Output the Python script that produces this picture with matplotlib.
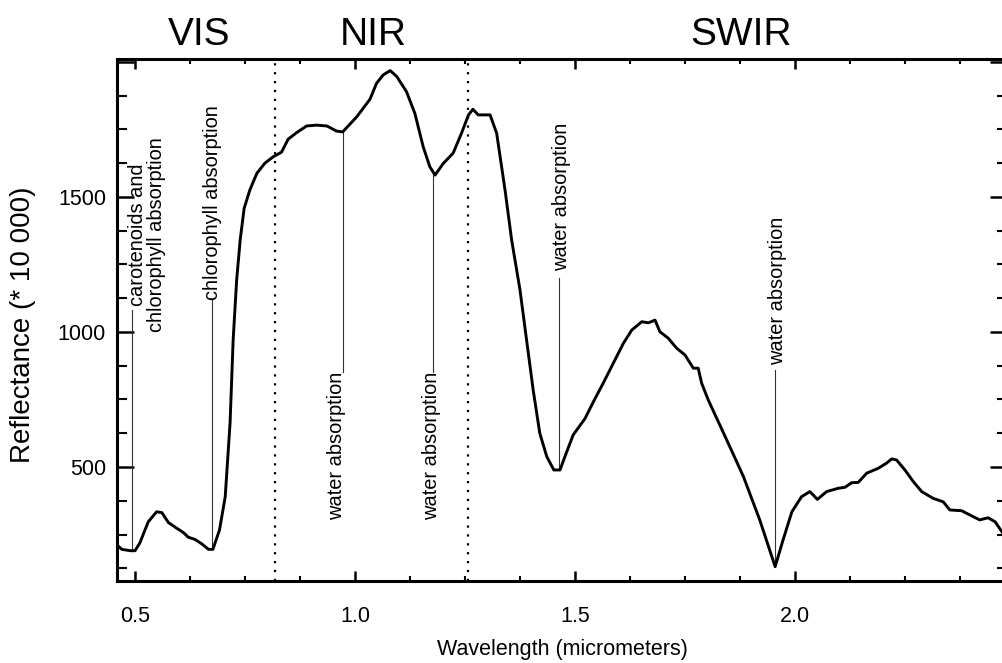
import numpy as np
import matplotlib
matplotlib.use("Agg")
import matplotlib.pyplot as plt
from matplotlib.ticker import MultipleLocator
from matplotlib.transforms import blended_transform_factory

plt.rcParams['font.family'] = ['Liberation Sans', 'DejaVu Sans']

# spectrum
wavelength = [0.459, 0.470, 0.489, 0.500, 0.511, 0.530, 0.549, 0.561, 0.576, 0.595,
              0.610, 0.621, 0.636, 0.652, 0.667, 0.677, 0.692, 0.705, 0.716, 0.723,
              0.731, 0.739, 0.748, 0.761, 0.777, 0.795, 0.814, 0.833, 0.848, 0.867,
              0.890, 0.913, 0.936, 0.958, 0.972, 1.004, 1.034, 1.049, 1.064, 1.080,
              1.095, 1.117, 1.136, 1.155, 1.170, 1.182, 1.201, 1.223, 1.242, 1.258,
              1.268, 1.280, 1.307, 1.322, 1.341, 1.356, 1.375, 1.390, 1.405, 1.420,
              1.436, 1.452, 1.466, 1.477, 1.496, 1.523, 1.542, 1.564, 1.587, 1.610,
              1.629, 1.652, 1.667, 1.682, 1.693, 1.712, 1.731, 1.750, 1.769, 1.780,
              1.788, 1.803, 1.845, 1.883, 1.920, 1.955, 1.973, 1.993, 2.015, 2.034,
              2.051, 2.072, 2.098, 2.114, 2.129, 2.144, 2.163, 2.189, 2.208, 2.220,
              2.231, 2.250, 2.269, 2.288, 2.314, 2.337, 2.352, 2.379, 2.398, 2.420,
              2.439, 2.455, 2.473, 2.482]
reflectance = [211, 195, 190, 190, 219, 297, 334, 331, 294, 273,
               257, 240, 232, 215, 195, 195, 267, 390, 663, 970,
               1193, 1341, 1458, 1526, 1588, 1625, 1649, 1666, 1714, 1738,
               1763, 1766, 1763, 1744, 1741, 1797, 1862, 1921, 1952, 1968,
               1946, 1890, 1810, 1686, 1612, 1581, 1625, 1662, 1736, 1804,
               1825, 1804, 1804, 1736, 1526, 1341, 1156, 970, 785, 625,
               538, 489, 489, 538, 619, 680, 742, 810, 884, 958,
               1007, 1038, 1034, 1044, 1001, 977, 940, 915, 866, 866,
               810, 748, 600, 464, 304, 131, 230, 334, 390, 409,
               380, 409, 421, 425, 442, 443, 477, 495, 514, 530,
               526, 489, 446, 409, 384, 371, 341, 338, 322, 304,
               312, 297, 254, 235]

region_names = ['VIS', 'NIR', 'SWIR']
region_x = [0.645, 1.041, 1.877]
region_bounds = [0.818, 1.257]

# absorption annotations: feature wavelength, label, label x, label y, line end
feat_x = [0.494, 0.674, 0.972, 1.177, 1.464, 1.955]
feat_text = ['carotenoids and\nchlorophyll absorption', 'chlorophyll absorption',
             'water absorption', 'water absorption', 'water absorption', 'water absorption']
feat_text_x = [0.527, 0.677, 0.959, 1.175, 1.470, 1.961]
feat_text_y = [1359, 1478, 578, 578, 1500, 1152]
feat_line_end = [1081, 1119, 852, 852, 1200, 859]

fig = plt.figure(figsize=(10.03, 6.63), dpi=100)
ax = fig.add_axes([117 / 1003, 82 / 663, 890 / 1003, 522 / 663])

ax.plot(wavelength, reflectance, color='black', lw=2.1, zorder=3)

for b in region_bounds:
    ax.axvline(b, color='black', lw=1.6, linestyle=(0, (1, 3)), zorder=2)

for fx, txt, tx, ty, le in zip(feat_x, feat_text, feat_text_x, feat_text_y, feat_line_end):
    y0 = np.interp(fx, wavelength, reflectance)
    ax.plot([fx, fx], [y0, le], color='#333333', lw=0.8, zorder=2)
    ax.text(tx, ty, txt, rotation=90, ha='center', va='center', fontsize=14.4,
            linespacing=1.0, multialignment='center')

trans = blended_transform_factory(ax.transData, ax.transAxes)
for name, rx in zip(region_names, region_x):
    ax.text(rx, 1.027, name, transform=trans, ha='center', va='baseline', fontsize=28)

ax.set_xlim(0.459, 2.482)
ax.set_ylim(77.8, 2011)
ax.xaxis.set_minor_locator(MultipleLocator(0.125))
ax.yaxis.set_minor_locator(MultipleLocator(125))
ax.set_xticks([0.5, 1.0, 1.5, 2.0])
ax.set_xticklabels(['0.5', '1.0', '1.5', '2.0'])
ax.set_yticks([500, 1000, 1500, 2000])
ax.set_yticklabels(['500', '1000', '1500', ''])

ax.tick_params(axis='x', which='major', direction='in', length=7, width=1.8,
               top=True, labelsize=15.5, pad=18)
ax.tick_params(axis='x', which='minor', direction='in', length=3.6, width=1.5, top=True)
ax.tick_params(axis='y', which='major', direction='in', length=12, width=1.8,
               right=True, labelsize=15.5, pad=8)
ax.tick_params(axis='y', which='minor', direction='in', length=7, width=1.5, right=True)

for s in ax.spines.values():
    s.set_linewidth(2.2)

ax.set_xlabel('Wavelength (micrometers)', fontsize=15.5)
ax.xaxis.set_label_coords(0.5, -0.112)
fig.text(23 / 1003, 1 - 325 / 663, 'Reflectance (* 10 000)', rotation=90,
         ha='center', va='center', fontsize=20)

fig.savefig('out.png', dpi=100)
